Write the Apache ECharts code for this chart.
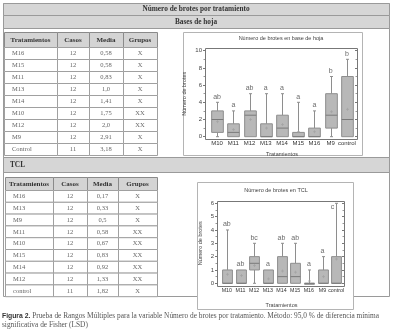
<!DOCTYPE html>
<html>
<head>
<meta charset="utf-8">
<script src="https://cdn.jsdelivr.net/npm/echarts@6/dist/echarts.min.js"></script>
<style>
  html, body { margin: 0; padding: 0; background: #fff; }
  #chart { width: 400px; height: 336px; }
</style>
</head>
<body>
<div id="chart"></div>
<script>
// tabla bases de hoja
const tratHoja = ['M16', 'M15', 'M11', 'M13', 'M14', 'M10', 'M12', 'M9', 'Control']
const casosHoja = [12, 12, 12, 12, 12, 12, 12, 12, 11]
const mediaHoja = ['0,58', '0,58', '0,83', '1,0', '1,41', '1,75', '2,0', '2,91', '3,18']
const gruposHoja = ['X', 'X', 'X', 'X', 'X', 'XX', 'XX', 'X', 'X']

// tabla TCL
const tratTcl = ['M16', 'M13', 'M9', 'M11', 'M10', 'M15', 'M14', 'M12', 'control']
const casosTcl = [12, 12, 12, 12, 12, 12, 12, 12, 11]
const mediaTcl = ['0,17', '0,33', '0,5', '0,58', '0,67', '0,83', '0,92', '1,33', '1,82']
const gruposTcl = ['X', 'X', 'X', 'XX', 'XX', 'XX', 'XX', 'XX', 'X']

// box plots: [min, Q1, mediana, Q3, max]
const categorias = ['M10', 'M11', 'M12', 'M13', 'M14', 'M15', 'M16', 'M9', 'control']
const boxHoja = [
  [0, 0.5, 2, 3, 4],
  [0, 0, 0.5, 1.5, 3],
  [0, 0, 2.5, 3, 5],
  [0, 0, 0, 1.5, 5],
  [0, 0, 1, 2.5, 5],
  [0, 0, 0, 0.5, 4],
  [0, 0, 0, 1, 3],
  [0, 1, 2.5, 5, 7],
  [0, 0, 2, 7, 9]
]
const mediasHoja = [1.75, 0.83, 2.0, 1.0, 1.41, 0.58, 0.58, 2.91, 3.18]
const letrasHoja = ['ab', 'a', 'ab', 'a', 'a', 'a', 'a', 'b', 'b']

const boxTcl = [
  [0, 0, 0, 1, 4],
  [0, 0, 0, 1, 1],
  [0, 1, 1.5, 2, 3],
  [0, 0, 0, 1, 1],
  [0, 0, 0.5, 2, 3],
  [0, 0, 0.5, 1.5, 3],
  [0, 0, 0, 0, 1],
  [0, 0, 0, 1, 2],
  [0, 0, 0, 2, 6]
]
const mediasTcl = [0.67, 0.58, 1.33, 0.33, 0.92, 0.83, 0.17, 0.5, 1.82]
const letrasTcl = ['ab', 'ab', 'bc', 'a', 'ab', 'ab', 'a', 'a', 'c']

const serif = '"Liberation Serif", "DejaVu Serif", serif'
const sans = '"Liberation Sans", Arial, sans-serif'
const gris = '#8e8e8e'

const chart = echarts.init(document.getElementById('chart'))

function tabla(cols, y0, hHead, hRow, trat, casos, media, grupos) {
  const els = []
  const heads = ['Tratamientos', 'Casos', 'Media', 'Grupos']
  heads.forEach((h, c) => {
    els.push({
      type: 'rect', z: 1,
      shape: { x: cols[c] + 0.5, y: y0 + 0.5, width: cols[c + 1] - cols[c], height: hHead },
      style: { fill: '#d4d4d4', stroke: '#8a8a8a', lineWidth: 1 }
    })
    els.push({
      type: 'text', z: 2,
      style: {
        text: h, x: (cols[c] + cols[c + 1]) / 2, y: y0 + hHead / 2 + 0.5,
        align: 'center', verticalAlign: 'middle',
        font: `bold 7px ${serif}`, fill: '#333'
      }
    })
  })
  trat.forEach((t, r) => {
    const cells = [t, String(casos[r]), media[r], grupos[r]]
    const y = y0 + hHead + r * hRow
    cells.forEach((txt, c) => {
      els.push({
        type: 'rect', z: 1,
        shape: { x: cols[c] + 0.5, y: y + 0.5, width: cols[c + 1] - cols[c], height: hRow },
        style: { fill: '#fff', stroke: '#a0a0a0', lineWidth: 1 }
      })
      els.push({
        type: 'text', z: 2,
        style: {
          text: txt,
          x: c === 0 ? cols[c] + 8 : (cols[c] + cols[c + 1]) / 2,
          y: y + hRow / 2 + 0.5,
          align: c === 0 ? 'left' : 'center', verticalAlign: 'middle',
          font: `6.5px ${serif}`, fill: '#666'
        }
      })
    })
  })
  return els
}

function banda(y, h, text, centrado) {
  return [
    {
      type: 'rect', z: 1,
      shape: { x: 3.5, y: y + 0.5, width: 386, height: h },
      style: { fill: '#d6d6d6', stroke: '#9a9a9a', lineWidth: 1 }
    },
    {
      type: 'text', z: 2,
      style: {
        text: text, x: centrado ? 196 : 10, y: y + h / 2 + 0.5,
        align: centrado ? 'center' : 'left', verticalAlign: 'middle',
        font: `bold 7.3px ${serif}`, fill: '#333'
      }
    }
  ]
}

function cajaRender(params, api) {
  const x = api.value(0)
  const vals = [1, 2, 3, 4, 5].map(k => api.value(k))
  const media = api.value(6)
  const p = v => api.coord([x, v])
  const w = api.size([1, 0])[0] * 0.72
  const [pMin, pQ1, pMed, pQ3, pMax] = vals.map(p)
  const cx = Math.round(pMin[0]) + 0.5
  const ls = { stroke: gris, lineWidth: 1 }
  const children = []
  if (vals[4] > vals[3]) {
    children.push({ type: 'line', shape: { x1: cx, y1: pMax[1], x2: cx, y2: pQ3[1] }, style: ls })
    children.push({ type: 'line', shape: { x1: cx - 1.5, y1: pMax[1], x2: cx + 1.5, y2: pMax[1] }, style: ls })
  }
  if (vals[1] > vals[0]) {
    children.push({ type: 'line', shape: { x1: cx, y1: pMin[1], x2: cx, y2: pQ1[1] }, style: ls })
    children.push({ type: 'line', shape: { x1: cx - 1.5, y1: pMin[1], x2: cx + 1.5, y2: pMin[1] }, style: ls })
  }
  children.push({
    type: 'rect',
    shape: { x: cx - w / 2, y: pQ3[1], width: w, height: Math.max(pQ1[1] - pQ3[1], 1) },
    style: { fill: '#b8b8b8', stroke: gris, lineWidth: 1 }
  })
  children.push({
    type: 'line',
    shape: { x1: cx - w / 2, y1: pMed[1], x2: cx + w / 2, y2: pMed[1] },
    style: { stroke: '#7a7a7a', lineWidth: 1 }
  })
  const pm = p(media)
  children.push({ type: 'line', shape: { x1: cx - 1.5, y1: pm[1], x2: cx + 1.5, y2: pm[1] }, style: { stroke: '#a2a2a2', lineWidth: 0.7 } })
  children.push({ type: 'line', shape: { x1: cx, y1: pm[1] - 1.5, x2: cx, y2: pm[1] + 1.5 }, style: { stroke: '#a2a2a2', lineWidth: 0.7 } })
  return { type: 'group', children }
}

function ejeY(grid, max, interval, lado, offset, nameGap) {
  return {
    type: 'value', gridIndex: grid, min: 0, max: max, interval: interval,
    position: lado, offset: offset, z: 5,
    name: lado === 'left' ? 'Número de brotes' : '',
    nameLocation: 'middle', nameGap: nameGap,
    nameTextStyle: { fontSize: 5.5, fontFamily: sans, color: '#444' },
    axisLine: { show: false },
    axisTick: { show: true, length: 2, inside: lado === 'right', lineStyle: { color: '#777' } },
    minorTick: { show: true, splitNumber: 2, length: 1.5, lineStyle: { color: '#999' } },
    splitLine: { show: false },
    axisLabel: { show: lado === 'left', fontSize: 6, fontFamily: sans, color: '#444', margin: 3 }
  }
}

function ejeX(grid, margin, nameGap, fontSize) {
  return {
    type: 'category', gridIndex: grid, data: categorias, z: 5,
    name: 'Tratamientos', nameLocation: 'middle', nameGap: nameGap,
    nameTextStyle: { fontSize: 5.5, fontFamily: sans, color: '#444' },
    axisLine: { show: false }, axisTick: { show: false }, splitLine: { show: false },
    axisLabel: { fontSize: fontSize, fontFamily: sans, color: '#333', margin: margin, interval: 0 }
  }
}

function letras(xi, yi, box, letrasArr, maxY) {
  return {
    type: 'scatter', xAxisIndex: xi, yAxisIndex: yi, symbolSize: 0, silent: true, z: 5,
    data: box.map((d, i) => d[4] >= maxY
      ? { value: [i, d[4]], label: { position: 'left', distance: 2, offset: [0, 4] } }
      : { value: [i, d[4]] }),
    label: {
      show: true, position: 'top', distance: 2,
      formatter: p => letrasArr[p.dataIndex],
      fontSize: 7, fontFamily: sans, color: '#444'
    }
  }
}

const graphic = [
  // marco general
  { type: 'rect', z: 0, shape: { x: 3.5, y: 3.5, width: 386, height: 293 }, style: { fill: '#fff', stroke: '#9a9a9a', lineWidth: 1 } },
  ...banda(3, 12, 'Número de brotes por tratamiento', true),
  ...banda(15, 13, 'Bases de hoja', true),
  ...banda(157, 15, 'TCL', false),
  ...tabla([4, 57, 89, 123, 157], 32, 15, 12, tratHoja, casosHoja, mediaHoja, gruposHoja),
  ...tabla([5, 53, 87, 118, 157], 177, 13, 11.8, tratTcl, casosTcl, mediaTcl, gruposTcl),
  // cajas de los gráficos
  { type: 'rect', z: 1, shape: { x: 183.5, y: 32.5, width: 179, height: 123 }, style: { fill: '#fff', stroke: '#b4b4b4', lineWidth: 1 } },
  { type: 'rect', z: 1, shape: { x: 197.5, y: 182.5, width: 156, height: 127 }, style: { fill: '#fff', stroke: '#b4b4b4', lineWidth: 1 } },
  { type: 'rect', z: 3, shape: { x: 205.5, y: 48.5, width: 152, height: 91 }, style: { fill: 'none', stroke: '#777', lineWidth: 1 } },
  { type: 'rect', z: 3, shape: { x: 217.5, y: 201.5, width: 127, height: 85 }, style: { fill: 'none', stroke: '#777', lineWidth: 1 } },
  {
    type: 'text', z: 4,
    style: { text: 'Número de brotes en base de hoja', x: 281, y: 38, align: 'center', verticalAlign: 'middle', font: `5.5px ${sans}`, fill: '#444' }
  },
  {
    type: 'text', z: 4,
    style: { text: 'Número de brotes en TCL', x: 276, y: 190, align: 'center', verticalAlign: 'middle', font: `5.5px ${sans}`, fill: '#444' }
  },
  // pie de figura
  {
    type: 'text', z: 4,
    style: {
      text: '{b|Figura 2.} Prueba de Rangos Múltiples para la variable Número de brotes por tratamiento. Método: 95,0 % de diferencia mínima\nsignificativa de Fisher (LSD)',
      x: 2, y: 312, align: 'left', verticalAlign: 'top',
      font: `7.35px ${serif}`, fill: '#555', lineHeight: 8.5,
      rich: { b: { fontFamily: sans, fontWeight: 'bold', fontSize: 6.8, fill: '#333' } }
    }
  }
]

const option = {
  animation: false,
  backgroundColor: '#fff',
  graphic: graphic,
  grid: [
    { left: 209, right: 45, top: 50.7, bottom: 199.3 },
    { left: 220, right: 57, top: 203.3, bottom: 52.7 }
  ],
  xAxis: [ejeX(0, 3.5, 15, 6), ejeX(1, 5, 19, 5.3)],
  yAxis: [
    ejeY(0, 10, 2, 'left', 4, 18),
    ejeY(0, 10, 2, 'right', 2, 0),
    ejeY(1, 6, 1, 'left', 3, 14),
    ejeY(1, 6, 1, 'right', 1, 0)
  ],
  series: [
    {
      type: 'custom', xAxisIndex: 0, yAxisIndex: 0, z: 2,
      renderItem: cajaRender,
      data: boxHoja.map((d, i) => [i, ...d, mediasHoja[i]])
    },
    {
      type: 'custom', xAxisIndex: 1, yAxisIndex: 2, z: 2,
      renderItem: cajaRender,
      data: boxTcl.map((d, i) => [i, ...d, mediasTcl[i]])
    },
    letras(0, 0, boxHoja, letrasHoja, 10),
    letras(1, 2, boxTcl, letrasTcl, 6)
  ]
}

chart.setOption(option)
</script>
</body>
</html>
